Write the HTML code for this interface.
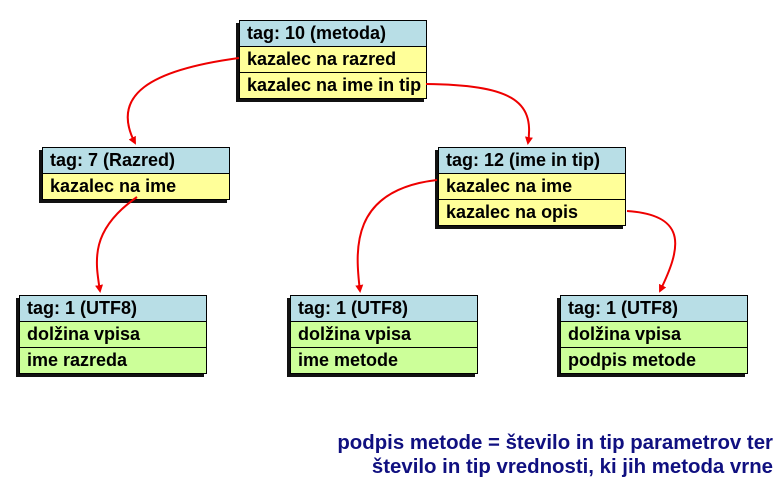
<!DOCTYPE html>
<html><head><meta charset="utf-8"><style>
body{margin:0;width:781px;height:481px;background:#fff;position:relative;font-family:"Liberation Sans",sans-serif;overflow:hidden}
.b{position:absolute;width:186px;border:1px solid #000;box-shadow:-3px 3px 0 #111;}
.b div{height:25px;line-height:25px;font-weight:bold;font-size:18px;padding-left:7px;border-top:1px solid #000;color:#000;white-space:nowrap;overflow:hidden}
.b div:first-child{border-top:none;background:#b8dee6}
.y{background:#ffff99}.g{background:#ccff99}
.t{position:absolute;right:8px;text-align:right;color:#101080;font-weight:bold;font-size:20.4px;line-height:24px;white-space:nowrap}
svg{position:absolute;left:0;top:0}
</style></head><body>
<div class="b" style="left:239px;top:20px"><div>tag: 10 (metoda)</div><div class="y">kazalec na razred</div><div class="y">kazalec na ime in tip</div></div>
<div class="b" style="left:42px;top:147px"><div>tag: 7 (Razred)</div><div class="y">kazalec na ime</div></div>
<div class="b" style="left:438px;top:147px"><div>tag: 12 (ime in tip)</div><div class="y">kazalec na ime</div><div class="y">kazalec na opis</div></div>
<div class="b" style="left:19px;top:295px"><div>tag: 1 (UTF8)</div><div class="g">dolžina vpisa</div><div class="g">ime razreda</div></div>
<div class="b" style="left:290px;top:295px"><div>tag: 1 (UTF8)</div><div class="g">dolžina vpisa</div><div class="g">ime metode</div></div>
<div class="b" style="left:560px;top:295px"><div>tag: 1 (UTF8)</div><div class="g">dolžina vpisa</div><div class="g">podpis metode</div></div>
<svg width="781" height="481">
<defs><marker id="a" markerWidth="8" markerHeight="8" refX="6" refY="4" orient="auto" markerUnits="userSpaceOnUse"><path d="M0,0 L8,4 L0,8 Z" fill="#e00"/></marker></defs>
<g fill="none" stroke="#e00" stroke-width="2" marker-end="url(#a)">
<path d="M239,58 C150,70 110,95 135,143"/>
<path d="M426,84 C510,85 535,100 528,143"/>
<path d="M137,197 C90,230 95,260 100,291"/>
<path d="M437,180 C350,190 355,250 360,291"/>
<path d="M627,211 C690,215 680,250 660,291"/>
</g></svg>
<div class="t" style="top:431px">podpis metode = število in tip parametrov ter<br>število in tip vrednosti, ki jih metoda vrne</div>
</body></html>
